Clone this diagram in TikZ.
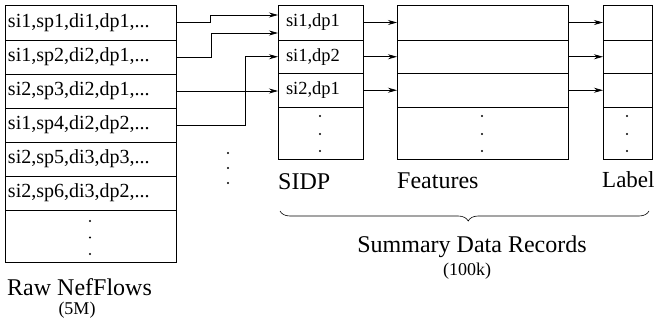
\documentclass[tikz,border=0pt]{standalone}
\usepackage{fontspec}
\setmainfont{Liberation Serif}
\usetikzlibrary{arrows.meta,decorations.pathreplacing,calc}
\begin{document}
\begin{tikzpicture}[x=1pt,y=-1pt,
  cell/.style={draw,line width=0.8pt,inner ysep=0pt,outer sep=0pt,align=left},
  rawcell/.style={cell,inner xsep=3pt,text width=165pt,
    font=\fontsize{20}{22}\selectfont},
  sidpcell/.style={cell,inner xsep=8pt,text width=69pt,
    font=\fontsize{18.5}{20}\selectfont},
  featcell/.style={cell,inner xsep=0pt,minimum width=171pt},
  labcell/.style={cell,inner xsep=0pt,minimum width=49pt},
  lbl/.style={inner sep=0pt,font=\fontsize{24}{26}\selectfont},
  cnt/.style={inner sep=0pt,font=\fontsize{18}{20}\selectfont},
  arr/.style={-{Stealth[length=9pt,width=5pt]},line width=0.7pt},
  dot/.style={fill=black}
]
\useasboundingbox (0,0) rectangle (656,322);

% raw flow table
\node[rawcell,minimum height=35pt] (r1) at (90.5,22.5) {si1,sp1,di1,dp1,...};
\node[rawcell,minimum height=34pt] (r2) at (90.5,57) {si1,sp2,di2,dp1,...};
\node[rawcell,minimum height=34pt] (r3) at (90.5,91) {si2,sp3,di2,dp1,...};
\node[rawcell,minimum height=34pt] (r4) at (90.5,125) {si1,sp4,di2,dp2,...};
\node[rawcell,minimum height=34pt] (r5) at (90.5,159) {si2,sp5,di3,dp3,...};
\node[rawcell,minimum height=34pt] (r6) at (90.5,193) {si2,sp6,di3,dp2,...};
\node[rawcell,minimum height=52pt] (r7) at (90.5,236) {};
\foreach \y in {221,237.5,254} \fill[dot] (90,\y) circle (1.2);

% SIDP column
\node[sidpcell,minimum height=35pt] (s1) at (320.5,22.5) {si1,dp1};
\node[sidpcell,minimum height=33.5pt] (s2) at (320.5,56.75) {si1,dp2};
\node[sidpcell,minimum height=33.5pt] (s3) at (320.5,90.25) {si2,dp1};
\node[sidpcell,minimum height=52pt] (s4) at (320.5,133) {};

% feature column
\node[featcell,minimum height=35pt] (f1) at (482.5,22.5) {};
\node[featcell,minimum height=33.5pt] (f2) at (482.5,56.75) {};
\node[featcell,minimum height=33.5pt] (f3) at (482.5,90.25) {};
\node[featcell,minimum height=52pt] (f4) at (482.5,133) {};

% label column
\node[labcell,minimum height=35pt] (l1) at (627.5,22.5) {};
\node[labcell,minimum height=33.5pt] (l2) at (627.5,56.75) {};
\node[labcell,minimum height=33.5pt] (l3) at (627.5,90.25) {};
\node[labcell,minimum height=52pt] (l4) at (627.5,133) {};

\foreach \x in {320,482,627}
  \foreach \y in {116,134,151} \fill[dot] (\x,\y) circle (1.2);

% dots between the tables
\foreach \y in {153,168,183} \fill[dot] (228,\y) circle (1.2);

% raw flows merged into SIDP records
\draw[arr] (r1.east) -- ++(34,0) |- ($(s1.west)+(0,-7.5)$);
\draw[arr] (r2.east) -- ++(35,0) |- ($(s1.west)+(0,10.5)$);
\draw[arr] (r3.east) -- (s3.west |- r3.east);
\draw[arr] (r4.east) -- ++(69,0) |- (s2.west);

% SIDP -> features -> label
\foreach \i in {1,2,3} {
  \draw[arr] (s\i.east) -- (f\i.west);
  \draw[arr] (f\i.east) -- (l\i.west);
}

% captions
\node[lbl,anchor=base west] (tsidp) at (278,189) {SIDP};
\node[lbl,anchor=base west] (tfeat) at (397,188) {Features};
\node[lbl,anchor=base west,font=\fontsize{23}{25}\selectfont] (tlab) at (602,187) {Label};

\draw[line width=0.6pt,decorate,decoration={brace,mirror,amplitude=10pt,aspect=0.51}]
  (280,211) -- (649,211);

\node[lbl,anchor=base] (tsdr) at (472,252) {Summary Data Records};
\node[cnt,anchor=base] (tsdrn) at (467,275) {(100k)};
\node[lbl,anchor=base west] (traw) at (7,295) {Raw NefFlows};
\node[cnt,anchor=base] (trawn) at (77,314) {(5M)};
\end{tikzpicture}
\end{document}
